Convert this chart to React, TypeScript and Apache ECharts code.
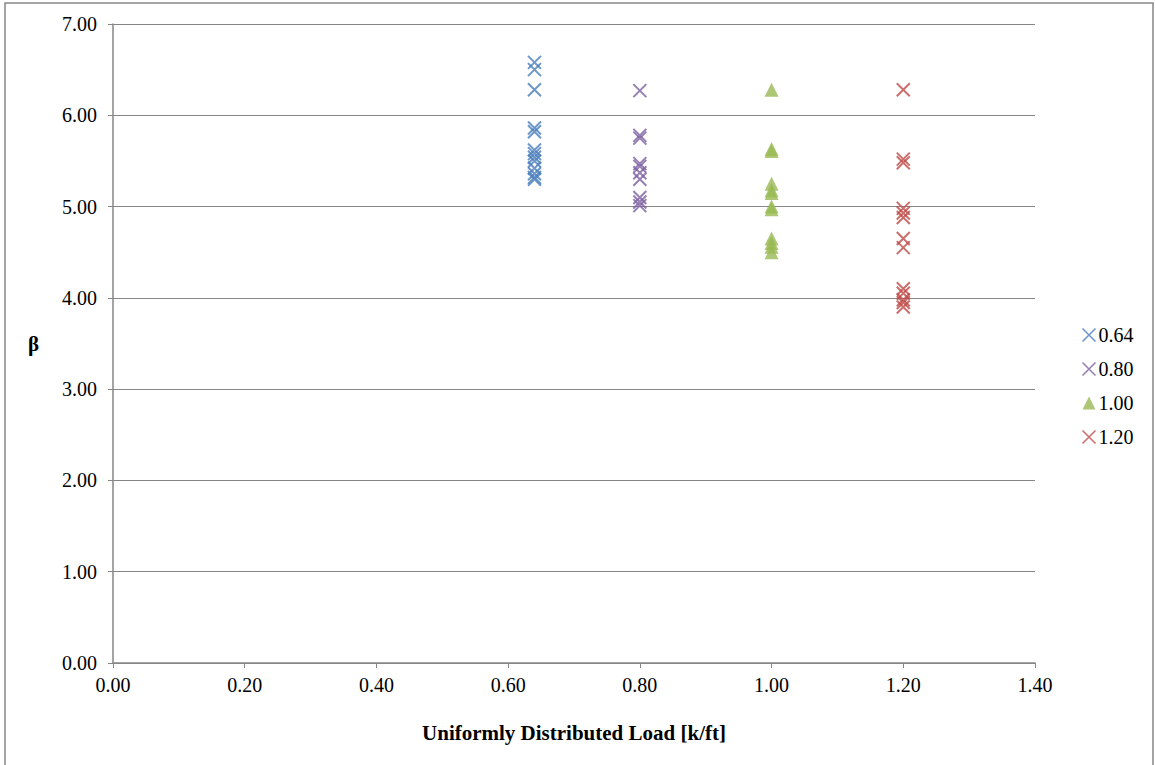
import React, { useEffect, useRef } from "react";
import * as echarts from "echarts";

const seriesNames = ["0.64", "0.80", "1.00", "1.20"];
const xLoads = [0.64, 0.8, 1.0, 1.2];
const beta064 = [6.58, 6.5, 6.28, 5.86, 5.82, 5.62, 5.58, 5.54, 5.5, 5.42, 5.36, 5.32, 5.3];
const beta080 = [6.27, 5.78, 5.75, 5.47, 5.44, 5.37, 5.3, 5.1, 5.05, 5.01];
const beta100 = [6.28, 5.63, 5.61, 5.25, 5.18, 5.15, 5.0, 4.97, 4.65, 4.6, 4.56, 4.5];
const beta120 = [6.28, 5.52, 5.48, 4.98, 4.93, 4.88, 4.65, 4.55, 4.1, 4.05, 3.98, 3.95, 3.9];
const colors = ["#4a7ebb", "#7d60a0", "#98b954", "#be4b48"];
const xTicks = { min: 0, max: 1.4, interval: 0.2 };
const yTicks = { min: 0, max: 7, interval: 1 };

const CROSS = "path://M0,0L10,10M10,0L0,10";

export default function App() {
  const ref = useRef<HTMLDivElement>(null);
  useEffect(() => {
    document.body.style.margin = "0";
    const chart = echarts.init(ref.current!, null, { renderer: "svg" });
    const all = [beta064, beta080, beta100, beta120];
    const font = "'Liberation Serif', 'Times New Roman', serif";
    const series = all.map((vals, i) => {
      const isTri = i === 2;
      return {
        name: seriesNames[i],
        type: "scatter",
        data: vals.map((v) => [xLoads[i], v]),
        symbol: isTri ? "triangle" : CROSS,
        symbolSize: isTri ? 14 : 13,
        itemStyle: isTri
          ? { color: colors[i] }
          : { color: "none", borderColor: colors[i], borderWidth: 2 },
      };
    });
    chart.setOption({
      animation: false,
      textStyle: { fontFamily: font },
      grid: { left: 113, right: 120, top: 24, bottom: 102 },
      legend: {
        orient: "vertical",
        left: 1075,
        top: 320,
        itemGap: 14,
        itemWidth: 13,
        itemHeight: 13,
        textStyle: { fontFamily: font, fontSize: 20, color: "#000", padding: [0, 0, 0, -2] },
        data: seriesNames.map((n, i) => ({
          name: n,
          icon: i === 2 ? "triangle" : CROSS,
          itemStyle:
            i === 2
              ? { color: colors[i] }
              : { color: "none", borderColor: colors[i], borderWidth: 1.6 },
        })),
      },
      xAxis: {
        type: "value",
        min: xTicks.min,
        max: xTicks.max,
        interval: xTicks.interval,
        name: "Uniformly Distributed Load [k/ft]",
        nameLocation: "middle",
        nameGap: 59,
        nameTextStyle: { fontFamily: font, fontSize: 21, fontWeight: "bold", color: "#000" },
        axisLine: { lineStyle: { color: "#868686", width: 1.5 } },
        axisTick: { show: true, length: 5, lineStyle: { color: "#868686" } },
        axisLabel: {
          formatter: (v: number) => v.toFixed(2),
          fontFamily: font,
          fontSize: 20,
          color: "#000",
          margin: 12,
        },
        splitLine: { show: false },
      },
      yAxis: {
        type: "value",
        min: yTicks.min,
        max: yTicks.max,
        interval: yTicks.interval,
        name: "β",
        nameLocation: "middle",
        nameRotate: 0,
        nameGap: 74,
        nameTextStyle: { fontFamily: font, fontSize: 21, fontWeight: "bold", color: "#000" },
        axisLine: { show: true, lineStyle: { color: "#868686", width: 1.5 } },
        axisTick: { show: true, length: 5, lineStyle: { color: "#868686" } },
        axisLabel: {
          formatter: (v: number) => v.toFixed(2),
          fontFamily: font,
          fontSize: 20,
          color: "#000",
          margin: 16,
        },
        splitLine: { show: true, lineStyle: { color: "#868686", width: 1.2 } },
      },
      graphic: [
        {
          type: "rect",
          shape: { x: 5, y: 3, width: 1148, height: 770 },
          style: { fill: "none", stroke: "#868686", lineWidth: 1.5 },
          silent: true,
        },
      ],
      series,
    });
    return () => chart.dispose();
  }, []);
  return <div ref={ref} style={{ width: 1155, height: 765 }} />;
}
